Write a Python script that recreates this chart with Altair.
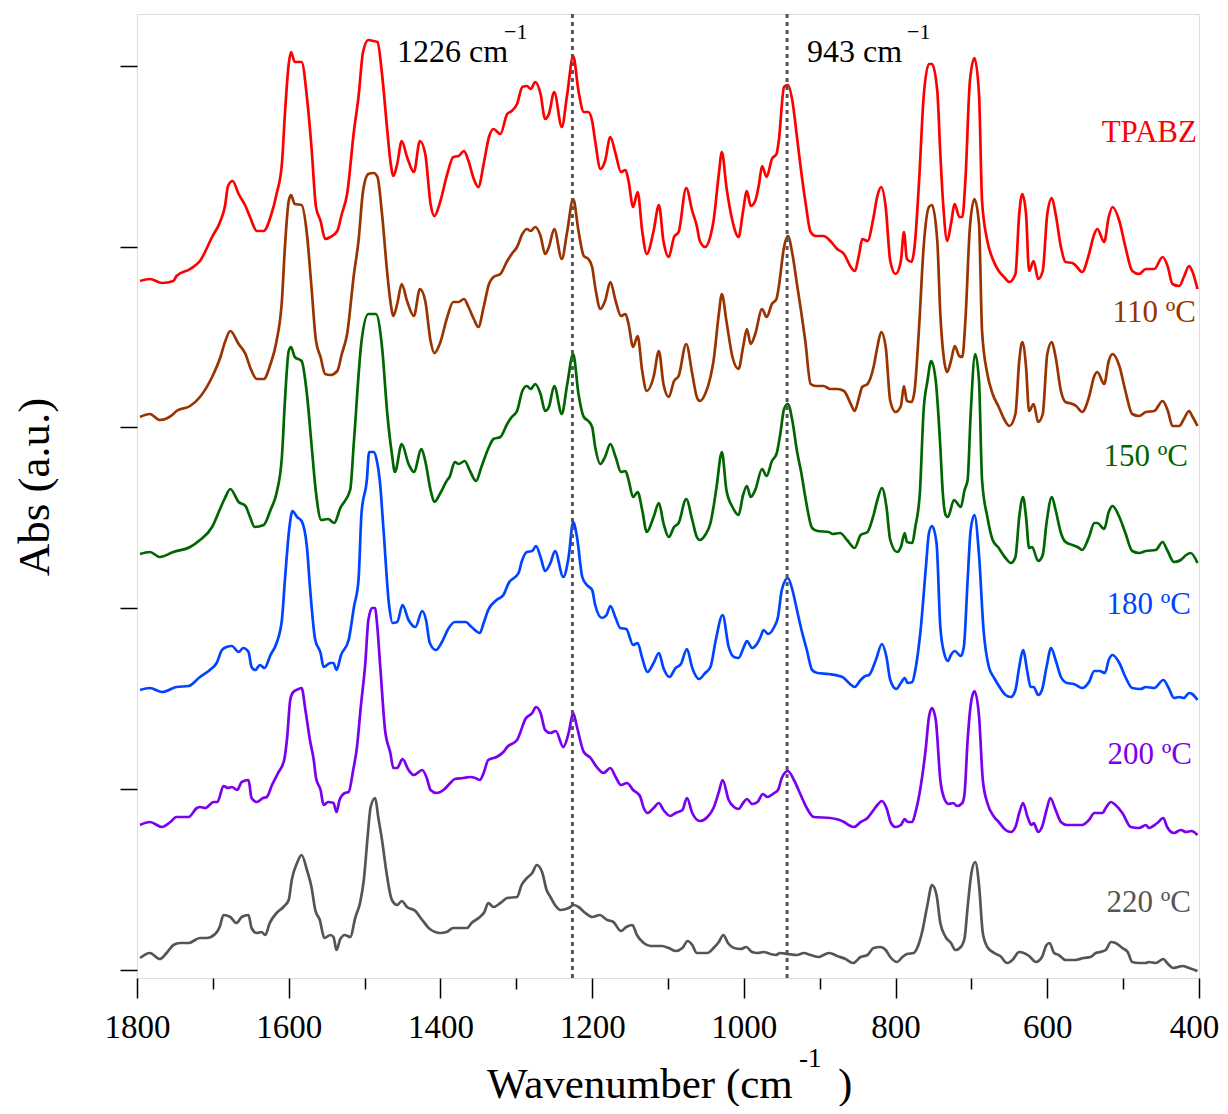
import altair as alt
import pandas as pd

# ---------------- data (absorbance in arbitrary offset units) ----------------
WN_TPABZ = [1796,1783,1767,1752,1748,1730,1717,1701,1690,1684,1680,1674,1666,1657,1651,1642,1633,1624,1616,1609,1605,1600,1597,1592,1583,1576,1570,1564,1558,1552,1545,1536,1530,1523,1514,1508,1502,1495,1488,1483,1477,1470,1466,1462,1457,1451,1444,1435,1427,1420,1413,1408,1400,1391,1383,1376,1369,1363,1356,1350,1343,1336,1330,1321,1312,1306,1299,1292,1286,1281,1275,1268,1262,1257,1250,1240,1233,1225,1218,1211,1205,1200,1196,1189,1183,1176,1169,1162,1156,1152,1146,1140,1134,1128,1119,1112,1106,1099,1092,1086,1076,1068,1062,1058,1051,1044,1040,1033,1029,1023,1015,1007,1001,996,991,985,980,976,970,963,957,954,947,942,936,930,924,919,912,905,895,886,877,868,859,854,848,844,837,829,824,819,813,807,800,793,789,785,779,775,769,763,756,752,745,741,737,732,727,722,716,712,708,702,696,690,686,679,672,664,657,650,642,637,633,628,624,618,612,606,600,594,589,582,576,567,562,554,545,538,534,525,519,514,505,497,488,479,470,459,448,441,435,426,420,413,409,402]
AB_TPABZ = [689,691,687,689,694,701,709,733,749,764,784,789,776,764,753,739,739,753,776,806,856,906,918,908,908,873,823,763,749,731,733,739,756,776,839,873,918,930,929,928,896,839,809,794,806,829,813,798,829,816,766,754,769,796,813,814,819,809,791,783,806,833,841,836,856,859,866,883,884,881,888,876,851,856,878,843,875,914,879,858,858,849,829,801,809,833,816,798,800,789,763,778,739,716,739,765,729,713,733,738,782,759,744,729,723,734,749,796,818,783,749,733,759,779,764,769,786,804,793,811,816,829,883,885,869,833,796,769,738,734,734,729,721,716,703,699,716,731,729,753,774,783,763,709,696,709,738,711,708,723,789,873,906,906,879,816,763,729,746,766,753,753,789,889,912,876,769,729,711,699,693,688,696,756,776,756,699,709,691,699,756,772,756,723,708,707,704,698,716,736,741,728,753,763,749,723,699,696,701,701,713,703,686,684,693,704,699,681]

WN_110 = [1796,1783,1770,1752,1748,1730,1717,1701,1690,1684,1677,1666,1657,1651,1642,1633,1624,1616,1609,1605,1600,1597,1592,1583,1576,1570,1564,1558,1552,1545,1536,1530,1523,1514,1508,1502,1495,1488,1483,1477,1470,1466,1462,1457,1451,1444,1435,1427,1420,1413,1408,1400,1391,1383,1376,1369,1363,1356,1350,1343,1336,1330,1321,1312,1306,1299,1292,1286,1281,1275,1268,1262,1257,1250,1240,1233,1225,1218,1211,1205,1200,1196,1189,1183,1176,1169,1162,1156,1152,1146,1140,1134,1128,1119,1112,1106,1099,1092,1086,1076,1068,1062,1058,1051,1044,1040,1033,1029,1023,1015,1007,1001,996,991,985,976,970,963,957,954,947,942,936,930,924,919,912,905,895,886,877,868,859,854,848,844,837,829,824,819,813,807,800,793,789,785,779,775,769,763,756,752,745,741,737,732,727,722,716,712,708,702,696,690,686,679,672,664,657,650,642,637,633,628,624,618,612,606,600,594,589,582,576,567,562,554,545,538,534,525,519,514,505,497,488,479,470,459,448,441,435,426,420,413,409,402]
AB_110 = [553,556,550,556,559,564,573,593,613,628,639,626,616,603,591,591,606,629,669,723,769,775,766,765,736,683,629,613,596,595,599,616,636,696,729,779,796,797,793,756,696,669,654,666,686,669,654,681,669,629,617,628,653,668,668,671,663,651,643,663,686,693,696,709,716,723,736,741,739,743,734,716,723,741,711,738,771,739,714,711,703,683,661,669,688,669,654,656,646,623,634,599,579,593,619,586,573,589,594,626,596,573,569,576,593,609,656,676,649,613,601,623,641,626,636,661,653,666,671,683,723,734,716,686,656,629,586,584,584,581,581,579,566,559,573,583,586,603,623,638,623,569,558,564,584,569,568,579,643,723,763,765,729,656,616,598,609,624,614,613,649,743,771,746,639,596,576,563,551,544,556,609,628,603,559,566,548,556,616,628,613,579,568,566,564,558,573,594,598,586,609,616,604,579,556,554,558,559,569,559,544,544,551,559,554,544]

WN_150 = [1796,1783,1770,1752,1730,1717,1701,1690,1684,1677,1666,1657,1651,1645,1633,1624,1616,1609,1605,1600,1597,1592,1583,1576,1570,1564,1557,1548,1540,1532,1519,1514,1504,1495,1485,1477,1470,1464,1460,1451,1442,1435,1425,1420,1413,1408,1400,1391,1388,1381,1376,1368,1361,1353,1346,1336,1330,1321,1312,1306,1299,1292,1286,1281,1275,1268,1262,1257,1250,1240,1233,1225,1218,1211,1205,1200,1196,1189,1183,1176,1169,1162,1156,1152,1146,1140,1134,1128,1119,1112,1106,1099,1092,1086,1076,1068,1062,1058,1051,1044,1040,1036,1029,1023,1015,1007,1001,996,991,985,976,970,963,957,952,947,942,936,930,924,919,910,903,888,883,873,864,854,846,837,829,824,818,812,807,798,793,788,785,778,774,768,763,758,753,747,741,738,734,731,723,714,709,705,701,695,690,686,679,672,664,655,648,642,637,632,628,624,620,612,606,601,594,589,582,576,567,560,554,545,538,534,525,519,514,505,497,488,479,470,457,448,442,433,424,417,411,402]
AB_150 = [416,418,413,418,423,430,443,462,472,481,468,464,453,443,445,460,477,513,569,619,623,613,609,576,526,477,450,451,447,462,480,529,629,656,656,623,556,516,498,526,506,498,521,509,480,468,477,490,493,508,506,509,499,489,503,523,531,533,546,553,559,579,584,581,586,576,559,563,584,556,585,616,576,553,549,543,523,506,513,526,513,498,499,490,473,478,460,438,453,467,447,433,443,447,471,450,433,430,435,447,463,483,518,480,463,455,475,484,473,480,501,494,509,516,536,561,566,549,519,496,473,442,439,438,436,437,430,422,435,438,455,470,482,463,430,418,423,437,428,427,443,477,560,589,609,589,523,480,455,453,470,463,480,490,556,616,589,490,453,430,422,412,407,413,453,473,453,422,423,409,415,447,473,460,437,428,425,423,420,433,447,447,441,458,464,453,437,419,417,419,420,428,420,408,410,415,417,407]

WN_180 = [1796,1783,1767,1748,1732,1717,1704,1695,1688,1682,1675,1666,1660,1653,1649,1644,1638,1632,1624,1616,1609,1605,1599,1595,1589,1583,1576,1572,1565,1558,1554,1545,1541,1537,1531,1521,1514,1508,1504,1497,1494,1488,1484,1480,1475,1468,1463,1457,1450,1442,1433,1424,1419,1414,1406,1398,1389,1381,1367,1359,1348,1343,1337,1326,1317,1310,1297,1293,1286,1279,1274,1268,1262,1255,1249,1238,1231,1225,1220,1213,1207,1200,1196,1187,1181,1176,1169,1163,1155,1146,1140,1134,1127,1119,1112,1106,1098,1090,1083,1075,1068,1059,1051,1044,1037,1028,1020,1013,1007,1000,996,989,982,978,974,968,960,955,950,942,936,930,924,917,910,903,888,870,860,854,846,840,835,826,818,812,807,799,793,788,784,778,774,767,760,756,752,746,741,736,731,727,722,714,710,705,701,696,690,684,677,670,662,655,648,642,637,632,626,622,618,612,607,601,595,589,582,574,565,554,545,538,531,524,519,514,505,497,488,477,470,459,447,440,433,426,420,413,409,402]
AB_180 = [280,282,278,283,284,293,300,307,320,323,324,318,322,318,303,300,305,302,315,327,350,390,443,459,453,449,423,383,330,317,303,307,307,300,315,330,363,390,457,490,518,518,510,490,440,367,347,348,365,350,343,359,350,327,320,328,342,348,348,343,337,347,360,370,375,387,397,408,418,419,424,413,399,407,419,393,413,448,433,393,385,380,365,352,355,364,352,342,341,325,327,312,298,307,317,302,293,302,306,321,302,291,297,303,330,355,323,313,312,323,329,322,327,333,340,336,343,353,380,392,380,360,340,320,300,297,296,293,286,283,290,294,295,310,326,313,290,281,287,292,287,288,300,340,403,437,444,427,343,317,309,315,319,314,323,390,440,455,415,340,303,292,282,275,273,280,303,320,297,283,283,275,280,303,322,310,293,287,286,282,288,299,299,297,310,315,307,293,282,281,283,282,290,282,272,273,272,277,276,270]

WN_200 = [1796,1783,1767,1756,1748,1732,1721,1717,1710,1699,1694,1686,1680,1675,1668,1662,1653,1649,1642,1634,1629,1622,1614,1606,1602,1598,1594,1587,1583,1578,1572,1567,1564,1558,1554,1548,1541,1537,1533,1526,1521,1515,1510,1505,1499,1495,1490,1486,1484,1479,1473,1466,1462,1457,1450,1442,1435,1424,1418,1413,1405,1396,1387,1381,1370,1361,1354,1348,1343,1337,1326,1317,1312,1299,1295,1288,1279,1274,1268,1262,1255,1248,1238,1231,1225,1220,1211,1202,1194,1185,1176,1169,1162,1154,1146,1137,1132,1127,1119,1112,1106,1097,1090,1081,1075,1068,1058,1048,1040,1033,1028,1020,1013,1007,1001,996,989,982,975,969,960,955,950,942,934,925,917,908,886,868,862,855,846,837,829,824,818,812,806,800,793,788,784,778,774,767,760,756,752,747,741,735,730,724,719,712,709,705,700,696,690,685,679,670,664,655,648,642,637,632,626,621,618,612,607,601,596,589,582,574,565,554,545,538,527,523,516,510,501,490,479,470,466,455,447,442,433,424,417,410,402]
AB_200 = [145,148,143,148,153,153,162,163,162,168,168,184,182,183,180,188,190,172,168,172,173,185,197,210,233,270,278,281,282,260,230,210,192,180,165,168,167,158,170,177,178,200,223,263,307,350,362,362,350,300,240,217,202,202,211,200,195,200,192,180,177,180,187,191,192,193,192,190,197,210,213,218,223,230,237,251,257,263,257,240,237,239,223,237,257,243,218,212,203,197,202,193,185,187,180,174,162,157,162,167,160,154,157,160,172,157,149,153,162,178,190,170,163,161,167,171,166,168,176,173,177,180,192,199,190,175,162,153,152,148,145,143,148,152,160,165,169,162,147,143,145,151,148,148,157,183,223,253,262,250,190,170,166,167,164,167,177,230,270,279,254,190,167,153,148,140,138,143,157,167,153,145,147,138,143,160,172,160,148,145,145,145,150,157,157,162,168,165,157,143,142,145,142,147,152,143,137,140,138,139,135]

WN_220 = [1796,1783,1770,1761,1752,1743,1732,1717,1708,1697,1691,1686,1677,1669,1662,1653,1649,1642,1636,1631,1625,1616,1607,1600,1596,1589,1583,1576,1570,1565,1559,1553,1545,1541,1537,1532,1526,1519,1512,1506,1501,1496,1492,1486,1482,1477,1471,1464,1457,1451,1444,1433,1424,1414,1400,1392,1383,1365,1359,1348,1342,1337,1330,1321,1312,1299,1293,1286,1279,1273,1266,1260,1255,1249,1242,1231,1224,1218,1209,1200,1190,1180,1172,1162,1155,1147,1141,1132,1123,1108,1099,1090,1081,1074,1068,1062,1048,1040,1033,1027,1021,1013,1004,997,989,982,974,965,958,952,942,930,921,912,901,895,887,877,866,856,846,837,829,820,813,807,798,791,785,776,771,765,758,752,746,741,734,727,721,714,709,705,700,695,690,685,679,670,662,653,646,637,631,624,615,607,601,597,591,585,576,563,552,543,536,530,523,516,510,501,494,488,479,470,466,457,447,442,434,428,422,413,402]
AB_220 = [12,17,11,17,25,27,27,32,32,36,43,55,53,47,53,55,42,37,38,35,47,57,63,70,90,107,115,100,83,60,50,32,35,33,20,31,35,33,53,67,90,133,163,172,153,130,97,70,65,69,63,59,50,41,37,38,42,42,47,53,58,67,63,67,72,73,85,92,97,105,98,80,73,65,60,62,65,63,57,53,55,50,48,39,43,45,35,27,24,24,22,19,22,29,25,17,17,22,28,35,27,22,21,23,18,17,18,16,15,17,16,15,17,15,13,15,17,14,11,7,13,15,22,23,20,13,8,13,16,17,23,38,65,85,75,47,33,27,20,23,32,63,97,108,85,37,23,17,14,7,10,18,17,14,8,13,25,27,17,15,10,10,12,13,17,18,20,28,27,22,18,8,7,7,8,7,11,7,2,3,4,2,-1]

SERIES = ["TPABZ", "110 \u00baC", "150 \u00baC", "180 \u00baC", "200 \u00baC", "220 \u00baC"]
COLORS = ["#FF0000", "#993300", "#006600", "#0044FF", "#7A00EE", "#555555"]
WN_LIST = [WN_TPABZ, WN_110, WN_150, WN_180, WN_200, WN_220]
AB_LIST = [AB_TPABZ, AB_110, AB_150, AB_180, AB_200, AB_220]

MARK_WN = [1226, 943]
MARK_TXT = ["1226 cm", "943 cm"]

X_MAJOR = [1800, 1600, 1400, 1200, 1000, 800, 600, 400]
X_MINOR = [1700, 1500, 1300, 1100, 900, 700, 500]
Y_TICKS = [0, 181, 362, 543, 723, 904]

frames = []
for name, wn, ab in zip(SERIES, WN_LIST, AB_LIST):
    frames.append(pd.DataFrame({"series": name, "wn": wn, "abs": ab}))
df = pd.concat(frames, ignore_index=True)

W, H = 1062, 964
SERIF = "Liberation Serif"

xscale = alt.Scale(domain=[400, 1800], reverse=True, nice=False, zero=False)
yscale = alt.Scale(domain=[-8, 956], nice=False, zero=False)

lines = alt.Chart(df).mark_line(strokeWidth=2.7, clip=True, interpolate="monotone").encode(
    x=alt.X("wn:Q", scale=xscale, title=None,
            axis=alt.Axis(values=X_MAJOR, format="d", tickSize=20, tickWidth=1.5, tickColor="#000",
                          domain=False, grid=False, labelFont="Liberation Sans Narrow",
                          labelFontSize=33, labelColor="#000", labelPadding=13, labelFlush=False,
                          labelOffset={"expr": "datum.value == 400 ? -5 : 0"})),
    y=alt.Y("abs:Q", scale=yscale, title=None,
            axis=alt.Axis(values=Y_TICKS, labels=False, tickSize=17, tickWidth=1.5, tickColor="#000",
                          domain=False, grid=False)),
    color=alt.Color("series:N", scale=alt.Scale(domain=SERIES, range=COLORS), legend=None),
    detail="series:N",
)

rules = alt.Chart(pd.DataFrame({"wn": MARK_WN})).mark_rule(
    color="#555555", strokeWidth=3, strokeDash=[4, 4]
).encode(
    x=alt.X("wn:Q", scale=xscale, title=None,
            axis=alt.Axis(values=X_MINOR, labels=False, tickSize=11, tickWidth=1.5, tickColor="#000",
                          domain=False, grid=False, orient="bottom")),
)

layers = [lines, rules]

# series labels on the right
label_pos = [(1060, 133), (1059, 313), (1051, 457), (1054, 605), (1055, 755), (1054, 903)]
for name, col, (lx, ly) in zip(SERIES, COLORS, label_pos):
    txt = name if name != "110 \u00baC" else "110  \u00baC"
    layers.append(
        alt.Chart(pd.DataFrame({"t": [txt]})).mark_text(
            font=SERIF, fontSize=31, color=col, align="right", baseline="middle"
        ).encode(x=alt.value(lx), y=alt.value(ly - 14), text="t:N")
    )

# peak annotations
for txt, (tx, sx) in zip(MARK_TXT, [(260, 367), (670, 770)]):
    layers.append(
        alt.Chart(pd.DataFrame({"t": [txt]})).mark_text(
            font=SERIF, fontSize=32, color="#000", align="left", baseline="alphabetic"
        ).encode(x=alt.value(tx), y=alt.value(48), text="t:N")
    )
    layers.append(
        alt.Chart(pd.DataFrame({"t": ["\u22121"]})).mark_text(
            font=SERIF, fontSize=22, color="#000", align="left", baseline="alphabetic"
        ).encode(x=alt.value(sx), y=alt.value(25), text="t:N")
    )

# axis titles
layers.append(
    alt.Chart(pd.DataFrame({"t": ["Abs (a.u.)"]})).mark_text(
        font=SERIF, fontSize=45, color="#000", angle=270, align="center", baseline="middle"
    ).encode(x=alt.value(-102), y=alt.value(473), text="t:N")
)
layers.append(
    alt.Chart(pd.DataFrame({"t": ["Wavenumber (cm"]})).mark_text(
        font=SERIF, fontSize=43, color="#000", align="left", baseline="alphabetic"
    ).encode(x=alt.value(350), y=alt.value(1084), text="t:N")
)
layers.append(
    alt.Chart(pd.DataFrame({"t": ["-1"]})).mark_text(
        font=SERIF, fontSize=27, color="#000", align="left", baseline="alphabetic"
    ).encode(x=alt.value(662), y=alt.value(1053), text="t:N")
)
layers.append(
    alt.Chart(pd.DataFrame({"t": [")"]})).mark_text(
        font=SERIF, fontSize=43, color="#000", align="left", baseline="alphabetic"
    ).encode(x=alt.value(701), y=alt.value(1084), text="t:N")
)

chart = alt.layer(*layers).resolve_axis(x="independent").properties(
    width=W, height=H,
    autosize=alt.AutoSizeParams(type="none"),
    padding={"left": 129, "top": 6, "right": 21, "bottom": 128},
).configure_view(stroke="#222222", strokeWidth=1.8).configure(background="white")

chart.save("out.html", embed_options={"renderer": "svg", "actions": False})
